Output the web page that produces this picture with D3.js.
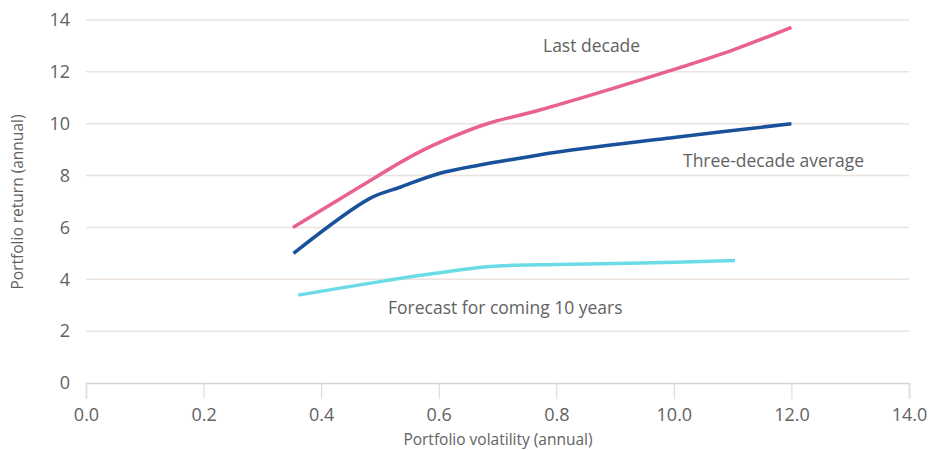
<!DOCTYPE html>
<html><head><meta charset="utf-8">
<script src="https://cdn.jsdelivr.net/npm/d3@7"></script>
<style>body{margin:0;background:#fff}svg{display:block}text{font-family:"Open Sans",sans-serif;fill:#626262}</style>
</head><body><svg id="c" width="930" height="450"></svg>
<script>
const xTickValues = [0, 2, 4, 6, 8, 10, 12, 14];
const xTickLabels = ["0.0", "0.2", "0.4", "0.6", "0.8", "10.0", "12.0", "14.0"];
const yTickValues = [0, 2, 4, 6, 8, 10, 12, 14];
const lastDecade = [[3.52,6.0],[4.66,7.57],[5.57,8.79],[6.19,9.45],[6.81,9.99],[7.72,10.53],[9.87,12.0],[11.0,12.84],[12.0,13.72]];
const threeDecade = [[3.53,5.0],[4.83,7.12],[5.34,7.55],[6.02,8.09],[6.70,8.41],[7.38,8.67],[8.0,8.9],[10.0,9.47],[12.0,10.0]];
const forecast = [[3.61,3.39],[5.0,3.91],[5.91,4.22],[6.87,4.49],[8.0,4.57],[9.25,4.62],[11.04,4.72]];
const seriesNames = ["Last decade", "Three-decade average", "Forecast for coming 10 years"];
const xTitle = "Portfolio volatility (annual)";
const yTitle = "Portfolio return (annual)";

const svg = d3.select("#c");
const x = d3.scaleLinear().domain([0,14]).range([86,909]);
const y = d3.scaleLinear().domain([0,14]).range([383,20]);

// gridlines
svg.append("g").selectAll("line").data(yTickValues.filter(d=>d>0)).join("line")
  .attr("x1",86).attr("x2",909).attr("y1",d=>y(d)).attr("y2",d=>y(d))
  .attr("stroke","#ece4dc").attr("stroke-width",1.5);

// x axis
const xa = svg.append("g").attr("transform","translate(0,383)")
  .call(d3.axisBottom(x).tickValues(xTickValues).tickFormat((d,i)=>xTickLabels[i]).tickSize(16).tickPadding(9));
xa.select(".domain").attr("stroke","#d8d2cc").attr("stroke-width",1.5);
xa.selectAll(".tick line").attr("stroke","#e2ddd8").attr("stroke-width",1.2);
xa.selectAll("text").style("font-size","18px").attr("fill","#626262").style("font-family","Open Sans");

// y axis labels
const ya = svg.append("g").attr("transform","translate(86,0)")
  .call(d3.axisLeft(y).tickValues(yTickValues).tickSize(0).tickPadding(16));
ya.select(".domain").remove();
ya.selectAll("text").style("font-size","18px").attr("fill","#626262").style("font-family","Open Sans");

const line = d3.line().x(d=>x(d[0])).y(d=>y(d[1])).curve(d3.curveCatmullRom.alpha(0.5));
const data = [[lastDecade,"#e9628f"],[threeDecade,"#19529a"],[forecast,"#6bdbe6"]];
svg.append("g").selectAll("path").data(data).join("path")
  .attr("d",d=>line(d[0])).attr("fill","none").attr("stroke",d=>d[1])
  .attr("stroke-width",3.5).attr("stroke-linecap","butt").attr("stroke-linejoin","round");

// series labels
const lab = [[seriesNames[0],543,52],[seriesNames[1],683,167],[seriesNames[2],388,314]];
svg.append("g").selectAll("text").data(lab).join("text")
  .attr("x",d=>d[1]).attr("y",d=>d[2]).text(d=>d[0]).style("font-size","17.5px");

svg.append("text").attr("x",498).attr("y",445).attr("text-anchor","middle")
  .style("font-size","15.5px").text(xTitle);
svg.append("text").attr("transform","translate(23,202) rotate(-90)").attr("text-anchor","middle")
  .style("font-size","15.5px").text(yTitle);
</script></body></html>
